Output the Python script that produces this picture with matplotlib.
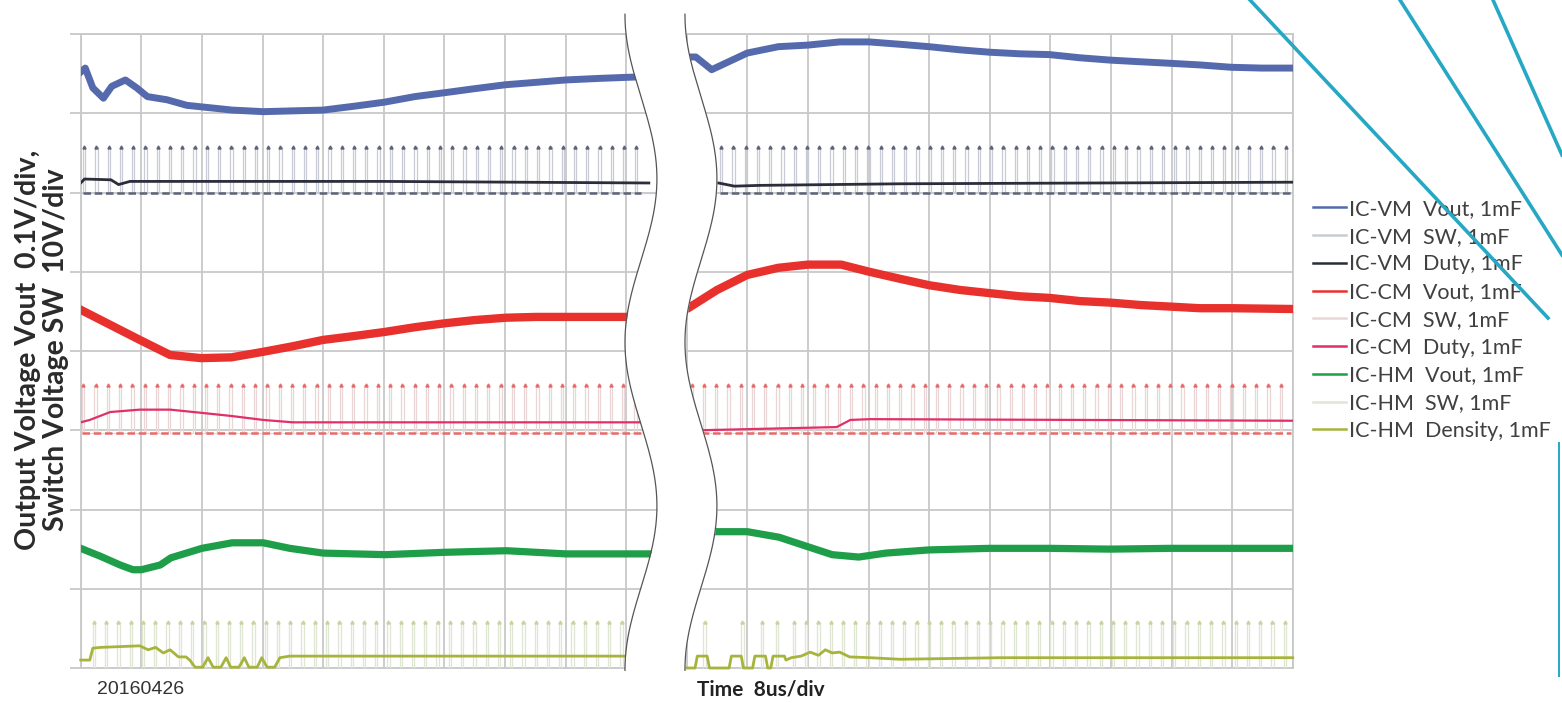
import numpy as np
import matplotlib.pyplot as plt
from matplotlib.lines import Line2D

# time axis in us (8 us/div), amplitude in divisions (0..8)
vm_vout_left_t = [0, 0.6, 1.6, 3.0, 4.1, 5.9, 7.4, 8.8, 11.4, 14.0, 16.0, 20.0, 24.1, 28.0, 32.0,
                  36.2, 40.1, 44.1, 48.1, 52.0, 56.1, 60.1, 64.0, 68.5, 74.0]
vm_vout_left_v = [7.52, 7.57, 7.32, 7.19, 7.34, 7.42, 7.32, 7.21, 7.17, 7.10, 7.08, 7.04, 7.02, 7.03, 7.04,
                  7.09, 7.14, 7.21, 7.26, 7.31, 7.36, 7.39, 7.42, 7.44, 7.46]
vm_vout_right_t = [79.5, 81.2, 83.3, 88.0, 92.1, 96.0, 100.2, 104.1, 108.2, 112.0, 116.1, 120.0, 124.0,
                   127.9, 131.9, 136.0, 139.8, 143.9, 147.7, 151.9, 155.9, 160.0]
vm_vout_right_v = [7.71, 7.71, 7.55, 7.76, 7.84, 7.86, 7.90, 7.90, 7.87, 7.84, 7.80, 7.77, 7.75,
                   7.74, 7.70, 7.67, 7.65, 7.63, 7.61, 7.58, 7.57, 7.57]
vm_duty_left_t = [0, 0.5, 4.0, 5.0, 6.5, 40.0, 75.0]
vm_duty_left_v = [6.12, 6.17, 6.16, 6.10, 6.14, 6.14, 6.12]
vm_duty_right_t = [79.5, 84.2, 86.3, 89.7, 108.2, 160.0]
vm_duty_right_v = [6.12, 6.12, 6.08, 6.09, 6.11, 6.13]

cm_vout_left_t = [0, 3.9, 7.8, 11.8, 15.9, 19.9, 24.1, 28.0, 32.0, 36.2, 40.1, 44.1, 48.1, 52.0,
                  56.1, 60.1, 64.0, 68.0, 74.0]
cm_vout_left_v = [4.52, 4.33, 4.14, 3.95, 3.91, 3.92, 3.99, 4.06, 4.14, 4.19, 4.24, 4.30, 4.35, 4.39,
                  4.42, 4.43, 4.43, 4.43, 4.43]
cm_vout_right_t = [79.5, 80.2, 84.0, 88.0, 92.1, 96.0, 100.4, 104.1, 108.2, 112.0, 116.1, 120.0, 124.0,
                   127.9, 131.9, 136.0, 139.9, 143.9, 147.7, 151.9, 160.0]
cm_vout_right_v = [4.52, 4.54, 4.77, 4.96, 5.05, 5.09, 5.09, 5.00, 4.91, 4.83, 4.77, 4.73, 4.69,
                   4.67, 4.63, 4.61, 4.58, 4.56, 4.54, 4.54, 4.53]
cm_duty_left_t = [0, 1.2, 3.9, 7.8, 11.8, 15.9, 19.9, 24.1, 28.0, 32.0, 75.0]
cm_duty_left_v = [3.10, 3.13, 3.23, 3.26, 3.26, 3.22, 3.18, 3.13, 3.10, 3.10, 3.10]
cm_duty_right_t = [79.0, 81.8, 99.8, 101.6, 104.2, 160.0]
cm_duty_right_v = [3.00, 3.00, 3.04, 3.13, 3.14, 3.12]

hm_vout_left_t = [0, 2.6, 5.2, 6.9, 8.0, 10.5, 11.9, 16.0, 20.0, 24.1, 27.6, 32.0, 40.2, 48.1,
                  56.2, 64.0, 75.0]
hm_vout_left_v = [1.51, 1.41, 1.30, 1.24, 1.24, 1.30, 1.39, 1.51, 1.58, 1.58, 1.51, 1.45, 1.43, 1.46,
                  1.48, 1.44, 1.44]
hm_vout_right_t = [80.5, 83.9, 88.0, 92.2, 96.0, 99.2, 102.7, 106.3, 112.0, 120.0, 127.9, 136.0,
                   143.9, 151.9, 160.0]
hm_vout_right_v = [1.72, 1.72, 1.72, 1.65, 1.53, 1.43, 1.40, 1.45, 1.49, 1.51, 1.51, 1.50,
                   1.51, 1.51, 1.51]
hm_dens_left_t = [0, 1.2, 1.6, 2.6, 7.8, 8.9, 9.9, 10.9, 11.8, 12.9, 13.9, 14.4, 15.1, 16.1, 16.8,
                  17.5, 18.5, 19.2, 19.8, 20.9, 21.6, 22.2, 23.3, 23.9, 24.6, 25.6, 26.3, 27.6, 42.1, 75.0]
hm_dens_left_v = [0.10, 0.10, 0.25, 0.26, 0.28, 0.23, 0.26, 0.19, 0.23, 0.14, 0.14, 0.10, 0.01, 0.01,
                  0.13, 0.01, 0.01, 0.13, 0.01, 0.01, 0.13, 0.01, 0.01, 0.13, 0.01, 0.01, 0.13, 0.15,
                  0.15, 0.15]
hm_dens_right_t = [79.0, 81.1, 81.4, 82.7, 83.0, 85.6, 85.9, 87.2, 87.5, 88.7, 89.0, 90.4, 90.7, 91.1,
                   91.4, 92.9, 93.1, 93.8, 95.1, 96.3, 97.4, 98.3, 99.2, 100.2, 101.5, 104.2, 108.2,
                   121.4, 160.0]
hm_dens_right_v = [0.0, 0.0, 0.15, 0.15, 0.0, 0.0, 0.15, 0.15, 0.0, 0.0, 0.15, 0.15, 0.0, 0.0,
                   0.15, 0.15, 0.10, 0.13, 0.15, 0.20, 0.16, 0.23, 0.19, 0.20, 0.14, 0.13, 0.11,
                   0.13, 0.13]

# switching node: low/high levels (div), switching period (us) and spans
sw_period = 1.62
vm_sw_low, vm_sw_high = 5.99, 6.57
cm_sw_low, cm_sw_high = 2.97, 3.57
hm_sw_low, hm_sw_high = 0.0, 0.58
vm_sw_spans = [(0.3, 74.0), (84.4, 159.8)]
cm_sw_spans = [(0.2, 74.0), (80.5, 159.8)]
hm_sw_spans = [(1.6, 74.0), (94.0, 159.8)]
hm_sw_extra = [82.2, 87.2, 89.8, 91.8]

labels = ['IC-VM  Vout, 1mF', 'IC-VM  SW, 1mF', 'IC-VM  Duty, 1mF',
          'IC-CM  Vout, 1mF', 'IC-CM  SW, 1mF', 'IC-CM  Duty, 1mF',
          'IC-HM  Vout, 1mF', 'IC-HM  SW, 1mF', 'IC-HM  Density, 1mF']
colors = ['#5569ad', '#c9ccd6', '#2b2d3a', '#e8312c', '#ead6d6', '#e0306a',
          '#1f9e4a', '#dfe6d4', '#a7b43c']


def pulse_times(spans, extra=()):
    ts = list(extra)
    for a, b in spans:
        ts += list(np.arange(a, b, sw_period))
    return sorted(ts)


def pulse_path(times, low, high, w=0.3):
    xs, ys = [], []
    for t in times:
        xs += [t, t, t + w, t + w]
        ys += [low, high, high, low]
    return xs, ys


fig = plt.figure(figsize=(15.62, 7.03), dpi=100)
ax = fig.add_axes([80.7 / 1562, 35 / 703, 1212 / 1562, 634 / 703])
ax.set_xlim(0, 160)
ax.set_ylim(0, 8)
ax.set_xticks(np.arange(0, 161, 8))
ax.set_yticks(np.arange(0, 9, 1))
ax.grid(True, color='#c8c8c8', lw=1.3)
ax.tick_params(axis='y', length=8, width=1.3, color='#c8c8c8', labelleft=False)
ax.tick_params(axis='x', length=0, labelbottom=False)
for s in ax.spines.values():
    s.set_color('#c8c8c8')
    s.set_linewidth(1.3)

# switching waveforms
for spans, extra, lo, hi, c, dc in [(vm_sw_spans, (), vm_sw_low, vm_sw_high, colors[1], '#5d6378'),
                                    (cm_sw_spans, (), cm_sw_low, cm_sw_high, colors[4], '#e86a6a'),
                                    (hm_sw_spans, hm_sw_extra, hm_sw_low, hm_sw_high, colors[7], '#c9d39a')]:
    ts = pulse_times(spans, extra)
    px, py = pulse_path(ts, lo, hi)
    ax.plot(px, py, color=c, lw=0.9, zorder=3)
    ax.plot(np.array(ts) + 0.15, [hi] * len(ts), ls='none', marker='^', ms=2.2, color=dc, zorder=3)
    if lo > 0:
        for a, b in spans:
            ax.plot([a, b], [lo, lo], color=dc, lw=1.8, ls=(0, (3, 1.5)), zorder=3)

lw_map = [5.0, 0.9, 2.0, 6.0, 0.9, 1.6, 5.2, 0.9, 2.0]
series = [(vm_vout_left_t, vm_vout_left_v, vm_vout_right_t, vm_vout_right_v, 0),
          (vm_duty_left_t, vm_duty_left_v, vm_duty_right_t, vm_duty_right_v, 2),
          (cm_vout_left_t, cm_vout_left_v, cm_vout_right_t, cm_vout_right_v, 3),
          (cm_duty_left_t, cm_duty_left_v, cm_duty_right_t, cm_duty_right_v, 5),
          (hm_vout_left_t, hm_vout_left_v, hm_vout_right_t, hm_vout_right_v, 6),
          (hm_dens_left_t, hm_dens_left_v, hm_dens_right_t, hm_dens_right_v, 8)]
for lt, lv, rt, rv, i in series:
    for t, v in [(lt, lv), (rt, rv)]:
        ax.plot(t, v, color=colors[i], lw=lw_map[i], zorder=5, clip_on=(i != 8),
                solid_joinstyle='round')

# axis break (white gap with curved edges)
yy = np.linspace(-0.03, 8.25, 200)
bump = 4.22 * (1 - np.cos(2 * np.pi * (8.24 - yy) / 4.13)) / 2
xl = 71.85 + bump
xr = 79.77 + bump
ax.fill_betweenx(yy, xl, xr, color='white', zorder=20, clip_on=False, lw=0)
ax.plot(xl, yy, color='#555555', lw=0.9, zorder=21, clip_on=False)
ax.plot(xr, yy, color='#555555', lw=0.9, zorder=21, clip_on=False)

# legend
handles = [Line2D([], [], color=c, lw=1.8) for c in colors]
fig.legend(handles, labels, loc='upper left', bbox_to_anchor=(1313 / 1562, 1 - 199 / 703),
           frameon=False, borderaxespad=0, borderpad=0, handlelength=1.55, handletextpad=0.12,
           labelspacing=0.36, labelcolor='#404040', prop={'family': 'Lato', 'size': 15.5})

fig.text(42 / 1562, 1 - 350 / 703, 'Output Voltage Vout  0.1V/div,\nSwitch Voltage SW  10V/div',
         rotation=90, ha='center', va='center', multialignment='center',
         family='Lato', weight='bold', size=20.5, color='#2a2a2a', linespacing=1.05)
fig.text(697 / 1562, 1 - 690 / 703, 'Time  8us/div', ha='left', va='center',
         family='Lato', weight='bold', size=15, color='#222222')
fig.text(97 / 1562, 1 - 690 / 703, '20160426', ha='left', va='center',
         family='Liberation Sans', size=14, color='#333333')

# cyan overlay strokes from the source screenshot
cyan = '#26a7c4'
for (x0, y0), (x1, y1) in [((1250, 0), (1548, 318)), ((1400, 0), (1562, 255)),
                           ((1493, 0), (1562, 155)), ((1559, 443), (1559, 676))]:
    fig.add_artist(Line2D([x0 / 1562, x1 / 1562], [1 - y0 / 703, 1 - y1 / 703],
                          transform=fig.transFigure, color=cyan,
                          lw=2.6 if x0 != x1 else 1.4, zorder=30))

fig.savefig('out.png', dpi=100)
